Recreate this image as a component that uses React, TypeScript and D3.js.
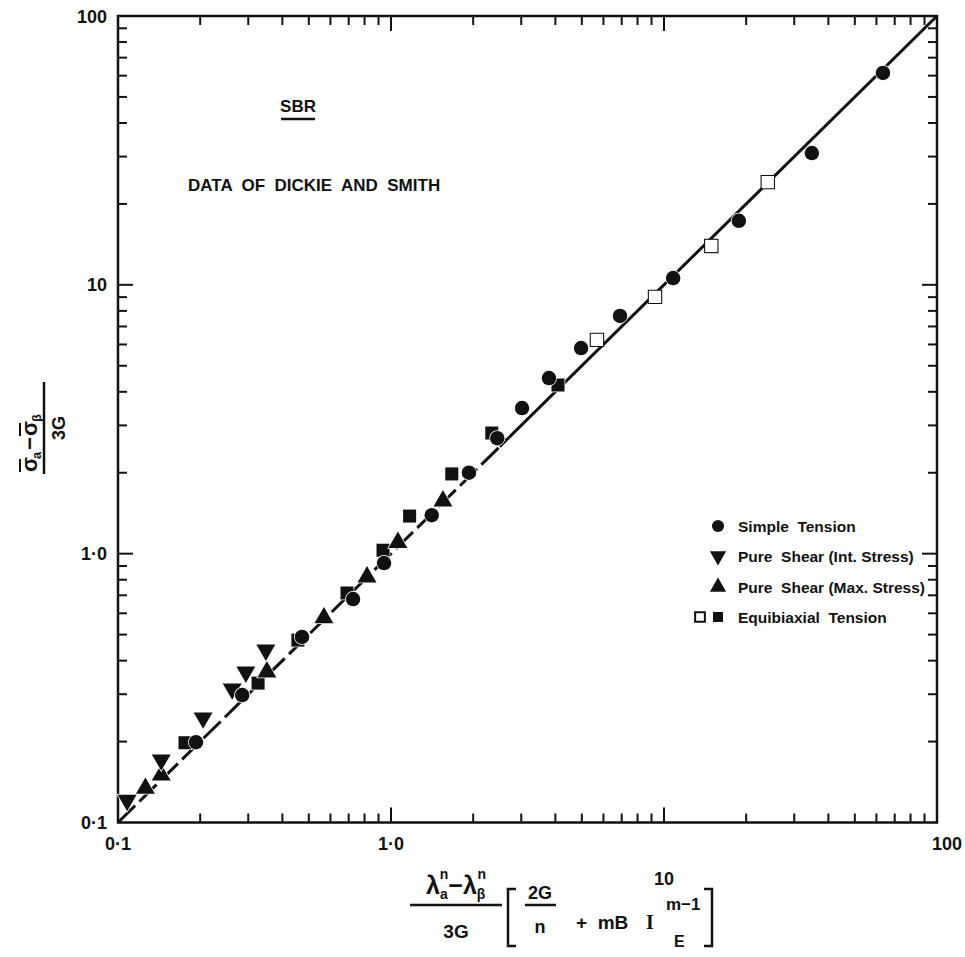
import { useEffect, useRef } from 'react';
import * as d3 from 'd3';

// [x, y] pairs
const simpleTension: [number, number][] = [
  [0.193, 0.199], [0.285, 0.298], [0.472, 0.49], [0.726, 0.678], [0.943, 0.923],
  [1.41, 1.39], [1.93, 2.0], [2.45, 2.69], [3.02, 3.48], [3.79, 4.5], [4.97, 5.82],
  [6.9, 7.66], [10.8, 10.6], [18.8, 17.3], [34.8, 30.9], [63.4, 61.4],
];
const pureShearInt: [number, number][] = [
  [0.108, 0.121], [0.144, 0.171], [0.205, 0.245], [0.262, 0.314], [0.294, 0.363], [0.348, 0.438],
];
const pureShearMax: [number, number][] = [
  [0.126, 0.134], [0.144, 0.15], [0.351, 0.363], [0.568, 0.577], [0.817, 0.819], [1.06, 1.1], [1.55, 1.57],
];
const equibiaxialFilled: [number, number][] = [
  [0.176, 0.198], [0.326, 0.33], [0.456, 0.477], [0.69, 0.714], [0.935, 1.03], [1.17, 1.38],
  [1.67, 1.98], [2.34, 2.81], [4.09, 4.24],
];
const equibiaxialOpen: [number, number][] = [
  [5.68, 6.24], [9.27, 9.02], [14.9, 13.95], [24.0, 24.1],
];
const fitLine: [number, number][] = [[0.1, 0.1], [100, 100]];

const majorTicks = [0.1, 1, 10, 100];
const tickLabels = ['0·1', '1·0', '10', '100'];
const legendLabels = [
  'Simple  Tension',
  'Pure  Shear (Int. Stress)',
  'Pure  Shear (Max. Stress)',
  'Equibiaxial  Tension',
];

const FONT = '"Liberation Sans", Arial, sans-serif';
const INK = '#111';

export default function App() {
  const svgRef = useRef<SVGSVGElement>(null);

  useEffect(() => {
    if (!svgRef.current) return;
    const svg = d3.select(svgRef.current);
    svg.selectAll('*').remove();

    const left = 118, right = 937, top = 16, bottom = 822.5;
    const x = d3.scaleLog().domain([0.1, 100]).range([left, right]);
    const y = d3.scaleLog().domain([0.1, 100]).range([bottom, top]);

    svg.append('rect').attr('width', 965).attr('height', 957).attr('fill', '#fff');

    // ticks, inward on all four sides
    const minor: number[] = [];
    [0.1, 1, 10].forEach((d) => d3.range(2, 10).forEach((k) => minor.push(k * d)));
    const ticks = svg.append('g').attr('stroke', INK).attr('stroke-width', 2);
    const tickSet = minor.map((v) => ({ v, len: 9 })).concat([1, 10].map((v) => ({ v, len: 15 })));
    tickSet.forEach(({ v, len }) => {
      ticks.append('line').attr('x1', x(v)).attr('x2', x(v)).attr('y1', bottom).attr('y2', bottom - len);
      ticks.append('line').attr('x1', x(v)).attr('x2', x(v)).attr('y1', top).attr('y2', top + len);
      ticks.append('line').attr('y1', y(v)).attr('y2', y(v)).attr('x1', left).attr('x2', left + len);
      ticks.append('line').attr('y1', y(v)).attr('y2', y(v)).attr('x1', right).attr('x2', right - len);
    });

    svg.append('rect')
      .attr('x', left).attr('y', top)
      .attr('width', right - left).attr('height', bottom - top)
      .attr('fill', 'none').attr('stroke', INK).attr('stroke-width', 2.5);

    // tick labels
    const lab = svg.append('g')
      .attr('font-family', FONT).attr('font-weight', 700).attr('font-size', 18).attr('fill', INK);
    majorTicks.forEach((v, i) => {
      lab.append('text').attr('x', left - 11).attr('y', y(v) + 6.5)
        .attr('text-anchor', 'end').text(tickLabels[i]);
      const isTen = v === 10;
      lab.append('text')
        .attr('x', v === 100 ? x(v) + 10 : x(v))
        .attr('y', isTen ? 885 : bottom + 27)
        .attr('text-anchor', 'middle').text(tickLabels[i]);
    });

    // fit line
    const line = d3.line<[number, number]>().x((d) => x(d[0])).y((d) => y(d[1]));
    svg.append('path').datum([fitLine[0], [2.5, 2.5]] as [number, number][])
      .attr('d', line).attr('fill', 'none').attr('stroke', INK)
      .attr('stroke-width', 3).attr('stroke-dasharray', '24,6');
    svg.append('path').datum([[2.5, 2.5], fitLine[1]] as [number, number][])
      .attr('d', line).attr('fill', 'none').attr('stroke', INK).attr('stroke-width', 3);

    // markers
    const sym = (type: d3.SymbolType, size: number) => d3.symbol().type(type).size(size)();
    const drawSeries = (
      data: [number, number][], type: d3.SymbolType, size: number,
      fill: string, rotate = 0,
    ) => {
      svg.append('g').selectAll('path').data(data).join('path')
        .attr('d', sym(type, size))
        .attr('transform', (d) => `translate(${x(d[0])},${y(d[1])}) rotate(${rotate})`)
        .attr('fill', fill).attr('stroke', fill === '#fff' ? INK : '#fff')
        .attr('stroke-width', fill === '#fff' ? 2.2 : 1.5)
        .attr('paint-order', 'stroke');
    };
    drawSeries(equibiaxialFilled, d3.symbolSquare, 170, INK);
    drawSeries(equibiaxialOpen, d3.symbolSquare, 150, '#fff');
    drawSeries(pureShearMax, d3.symbolTriangle, 155, INK);
    drawSeries(pureShearInt, d3.symbolTriangle, 155, INK, 180);
    drawSeries(simpleTension, d3.symbolCircle, 165, INK);

    // legend
    const lg = svg.append('g')
      .attr('font-family', FONT).attr('font-weight', 700).attr('font-size', 15.5).attr('fill', INK);
    const rows = [526, 556, 587, 617];
    const mk = 718;
    lg.append('path').attr('d', sym(d3.symbolCircle, 115)).attr('transform', `translate(${mk},${rows[0]})`);
    lg.append('path').attr('d', sym(d3.symbolTriangle, 115)).attr('transform', `translate(${mk},${rows[1]}) rotate(180)`);
    lg.append('path').attr('d', sym(d3.symbolTriangle, 115)).attr('transform', `translate(${mk},${rows[2]})`);
    lg.append('path').attr('d', sym(d3.symbolSquare, 95)).attr('transform', `translate(${mk - 18},${rows[3]})`)
      .attr('fill', '#fff').attr('stroke', INK).attr('stroke-width', 2);
    lg.append('path').attr('d', sym(d3.symbolSquare, 100)).attr('transform', `translate(${mk},${rows[3]})`);
    legendLabels.forEach((t, i) => {
      lg.append('text').attr('x', mk + 20).attr('y', rows[i] + 5.5).attr('xml:space', 'preserve').text(t);
    });

    // annotations
    const ann = svg.append('g')
      .attr('font-family', FONT).attr('font-weight', 700).attr('font-size', 17).attr('fill', INK);
    ann.append('text').attr('x', 298).attr('y', 112).attr('text-anchor', 'middle').text('SBR');
    ann.append('line').attr('x1', 281).attr('x2', 315).attr('y1', 119).attr('y2', 119)
      .attr('stroke', INK).attr('stroke-width', 2.5);
    ann.append('text').attr('x', 188).attr('y', 191).attr('xml:space', 'preserve')
      .text('DATA  OF  DICKIE  AND  SMITH');

    // y axis title (rotated fraction), drawn in local coords then rotated
    const yt = svg.append('g').attr('transform', 'translate(44,428) rotate(-90)')
      .attr('font-family', FONT).attr('font-weight', 700).attr('fill', INK);
    yt.append('line').attr('x1', -46).attr('x2', 46).attr('y1', 0).attr('y2', 0)
      .attr('stroke', INK).attr('stroke-width', 2.5);
    const over = (x1: number, x2: number, yy: number) =>
      yt.append('line').attr('x1', x1).attr('x2', x2).attr('y1', yy).attr('y2', yy)
        .attr('stroke', INK).attr('stroke-width', 2);
    yt.append('text').attr('x', -44).attr('y', -7).attr('font-size', 22).text('σ');
    over(-44, -31, -24);
    yt.append('text').attr('x', -31).attr('y', -3).attr('font-size', 13).text('a');
    yt.append('text').attr('x', -22).attr('y', -7).attr('font-size', 22).text('−');
    yt.append('text').attr('x', -8).attr('y', -7).attr('font-size', 22).text('σ');
    over(-8, 5, -24);
    yt.append('text').attr('x', 6).attr('y', -3).attr('font-size', 13).text('β');
    yt.append('text').attr('x', 0).attr('y', 21).attr('text-anchor', 'middle').attr('font-size', 18).text('3G');

    // x axis title
    const xt = svg.append('g').attr('font-family', FONT).attr('font-weight', 700).attr('fill', INK);
    const n1 = xt.append('text').attr('x', 456).attr('y', 894).attr('text-anchor', 'middle').attr('font-size', 25);
    n1.append('tspan').text('λ');
    n1.append('tspan').attr('font-size', 14).attr('dy', 5).text('a');
    n1.append('tspan').attr('font-size', 14).attr('dx', -8).attr('dy', -20).text('n');
    n1.append('tspan').attr('dy', 15).text('−λ');
    n1.append('tspan').attr('font-size', 14).attr('dy', 5).text('β');
    n1.append('tspan').attr('font-size', 14).attr('dx', -8).attr('dy', -20).text('n');
    xt.append('line').attr('x1', 410).attr('x2', 502).attr('y1', 905).attr('y2', 905)
      .attr('stroke', INK).attr('stroke-width', 2.5);
    xt.append('text').attr('x', 456).attr('y', 938).attr('text-anchor', 'middle').attr('font-size', 19).text('3G');

    const bracket = (bx: number, dir: number) =>
      xt.append('path')
        .attr('d', `M${bx + 8 * dir},889 H${bx} V946 H${bx + 8 * dir}`)
        .attr('fill', 'none').attr('stroke', INK).attr('stroke-width', 2.5);
    bracket(508, 1);
    bracket(712, -1);
    xt.append('text').attr('x', 540).attr('y', 899).attr('text-anchor', 'middle').attr('font-size', 18).text('2G');
    xt.append('line').attr('x1', 525).attr('x2', 556).attr('y1', 905).attr('y2', 905)
      .attr('stroke', INK).attr('stroke-width', 2.5);
    xt.append('text').attr('x', 540).attr('y', 933).attr('text-anchor', 'middle').attr('font-size', 18).text('n');
    xt.append('text').attr('x', 576).attr('y', 929).attr('font-size', 19).attr('xml:space', 'preserve').text('+  mB');
    xt.append('text').attr('x', 646).attr('y', 929).attr('font-size', 20)
      .attr('font-family', '"Liberation Serif", serif').text('I');
    xt.append('text').attr('x', 666).attr('y', 910).attr('font-size', 17).text('m−1');
    xt.append('text').attr('x', 674).attr('y', 947).attr('font-size', 16).text('E');
  }, []);

  return (
    <svg ref={svgRef} width={965} height={957}
      style={{ position: 'absolute', left: 0, top: 0, display: 'block' }} />
  );
}
